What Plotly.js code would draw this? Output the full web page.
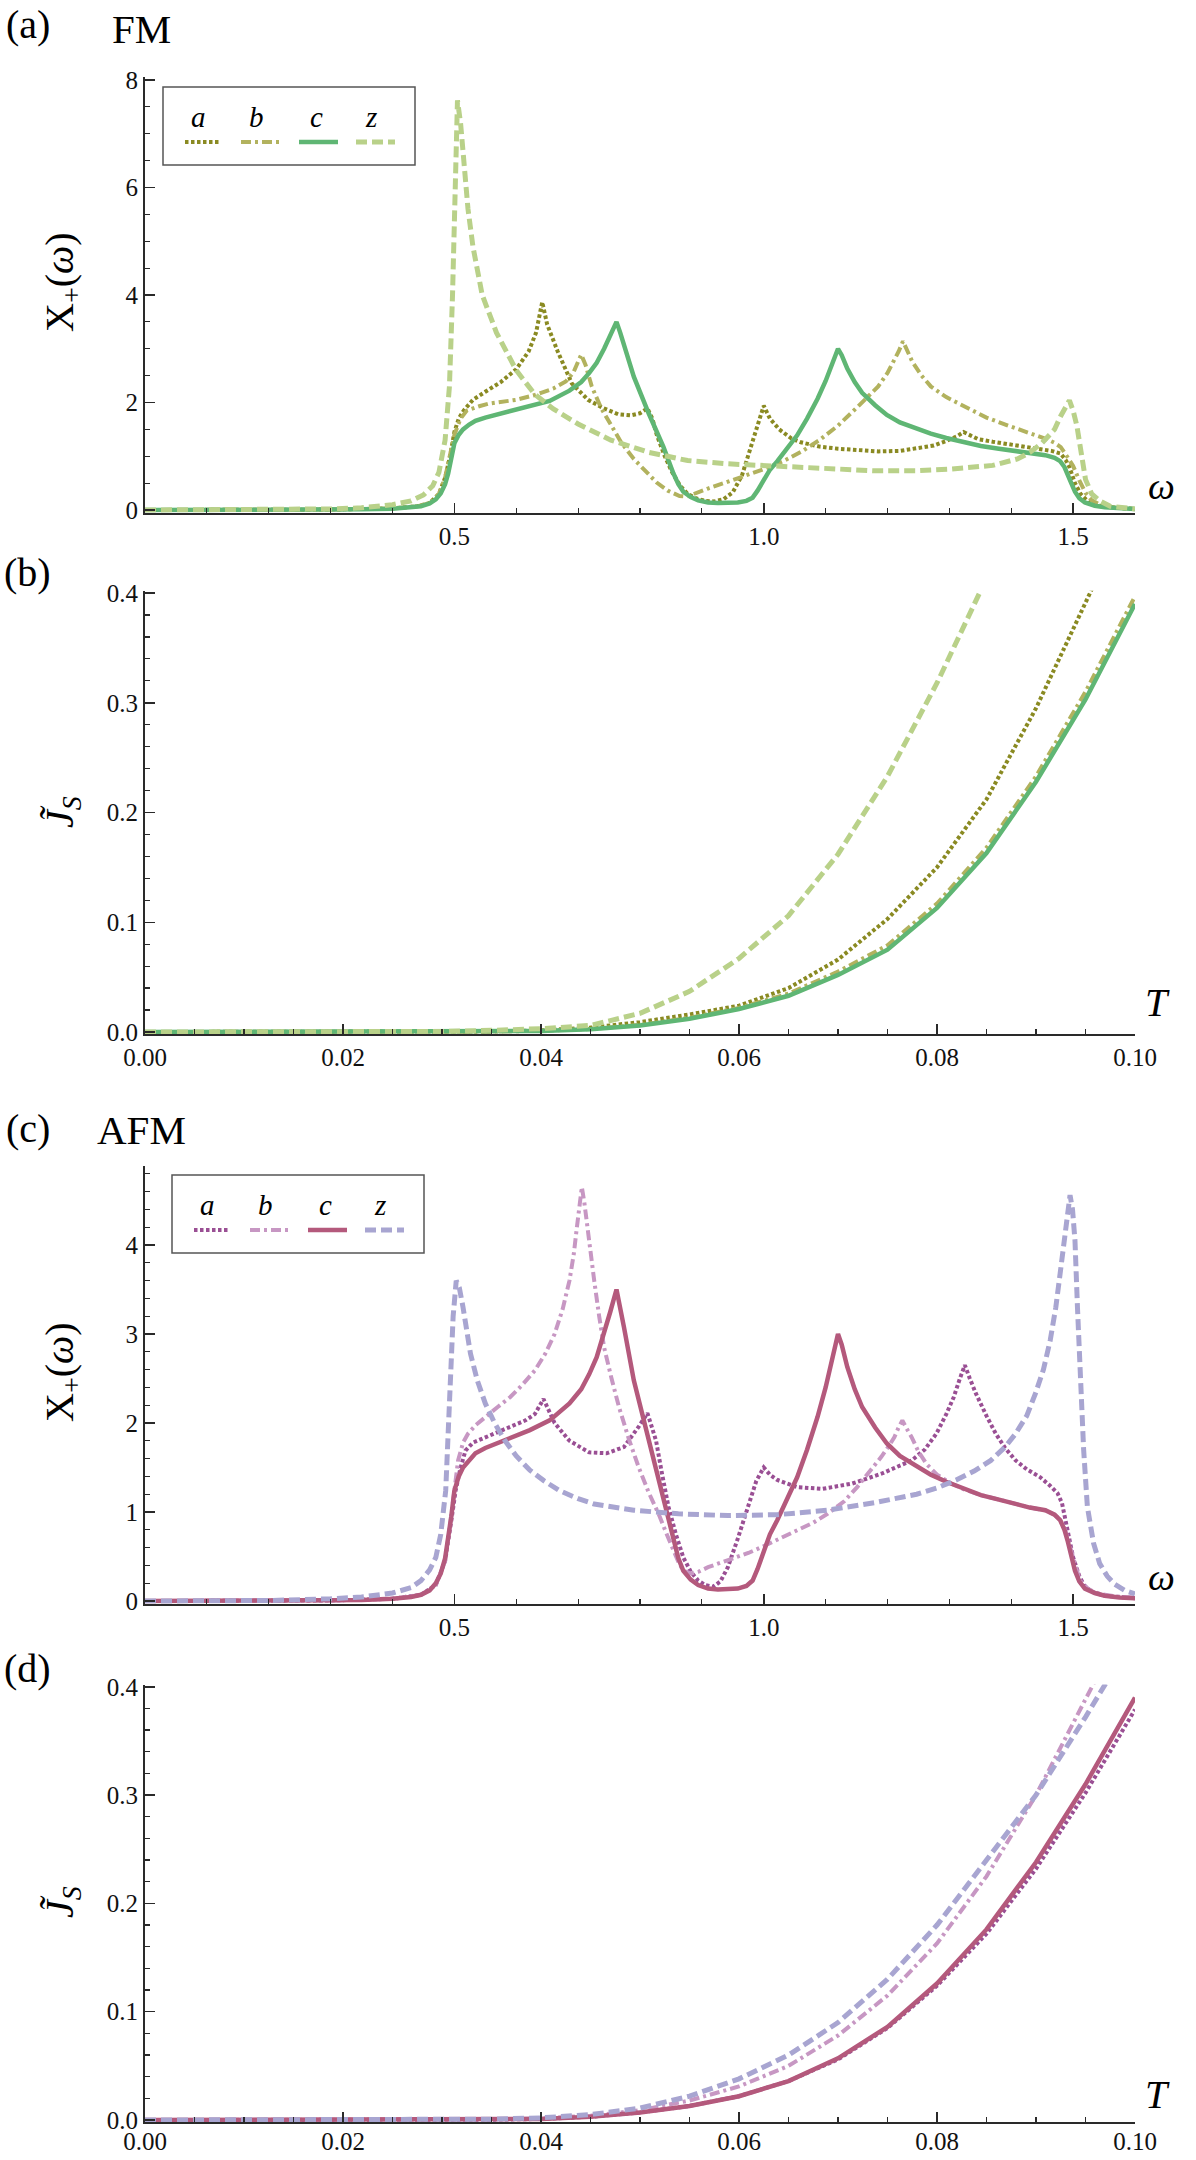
<!DOCTYPE html>
<html><head><meta charset="utf-8">
<script src="https://cdn.plot.ly/plotly-3.0.1.min.js"></script>
<style>html,body{margin:0;padding:0;background:#fff}#chart{width:1196px;height:2160px}</style>
</head><body><div id="chart"></div>
<script>
// ---------- DATA: panel (a) FM, X+(omega) ----------
const fmA_w = [0,0.2,0.3,0.4,0.44,0.46,0.475,0.485,0.493,0.5,0.507,0.515,0.53,0.55,0.575,0.6,0.62,0.632,0.642,0.65,0.667,0.69,0.716,0.74,0.765,0.785,0.8,0.812,0.82,0.827,0.84,0.852,0.865,0.877,0.89,0.905,0.92,0.935,0.95,0.965,0.975,0.988,1.0,1.01,1.025,1.045,1.06,1.09,1.12,1.15,1.185,1.22,1.247,1.275,1.296,1.312,1.323,1.334,1.346,1.37,1.395,1.42,1.444,1.465,1.48,1.488,1.494,1.503,1.512,1.525,1.543,1.57,1.6];
const fmA_y = [0,0.003,0.008,0.03,0.07,0.13,0.3,0.6,1.0,1.45,1.7,1.85,2.05,2.2,2.38,2.62,2.95,3.3,3.87,3.45,2.95,2.35,2.05,1.9,1.78,1.76,1.8,1.89,1.7,1.4,1.0,0.7,0.45,0.3,0.22,0.17,0.16,0.2,0.33,0.65,1.0,1.5,1.94,1.7,1.5,1.33,1.26,1.18,1.14,1.11,1.09,1.1,1.14,1.2,1.29,1.37,1.45,1.38,1.32,1.27,1.23,1.18,1.14,1.1,1.05,0.93,0.8,0.5,0.3,0.15,0.08,0.04,0.02];
const fmB_w = [0,0.3,0.4,0.44,0.46,0.475,0.485,0.493,0.5,0.51,0.52,0.54,0.556,0.6,0.63,0.66,0.68,0.692,0.7,0.705,0.712,0.722,0.737,0.753,0.77,0.79,0.81,0.827,0.845,0.864,0.876,0.889,0.91,0.938,0.97,1.0,1.03,1.06,1.09,1.12,1.15,1.185,1.2,1.21,1.218,1.225,1.232,1.24,1.255,1.27,1.295,1.32,1.36,1.395,1.43,1.457,1.47,1.48,1.49,1.5,1.51,1.52,1.53,1.543,1.57,1.6];
const fmB_y = [0,0.008,0.03,0.07,0.13,0.3,0.6,1.0,1.4,1.7,1.85,1.93,1.98,2.05,2.14,2.26,2.39,2.55,2.75,2.89,2.7,2.3,1.9,1.57,1.25,0.95,0.72,0.51,0.36,0.26,0.25,0.3,0.4,0.51,0.63,0.76,0.9,1.08,1.3,1.57,1.9,2.3,2.55,2.76,2.95,3.14,2.95,2.76,2.5,2.3,2.1,1.95,1.72,1.57,1.43,1.32,1.25,1.17,1.0,0.82,0.55,0.32,0.18,0.1,0.04,0.02];
const fmC_w = [0,0.1,0.2,0.3,0.35,0.4,0.43,0.446,0.46,0.47,0.478,0.485,0.49,0.495,0.5,0.507,0.514,0.524,0.534,0.55,0.574,0.6,0.622,0.654,0.686,0.705,0.718,0.73,0.742,0.752,0.762,0.768,0.774,0.79,0.814,0.838,0.854,0.862,0.87,0.882,0.894,0.91,0.926,0.958,0.972,0.982,0.99,1.0,1.01,1.022,1.038,1.054,1.07,1.087,1.1,1.107,1.114,1.12,1.126,1.135,1.147,1.159,1.18,1.199,1.22,1.247,1.27,1.295,1.32,1.351,1.38,1.407,1.43,1.455,1.47,1.479,1.486,1.491,1.497,1.503,1.51,1.519,1.535,1.551,1.575,1.6];
const fmC_y = [0,0,0.002,0.006,0.012,0.025,0.045,0.07,0.12,0.2,0.31,0.48,0.68,0.95,1.24,1.4,1.5,1.59,1.66,1.72,1.79,1.86,1.92,2.03,2.22,2.38,2.55,2.74,3.0,3.25,3.5,3.3,3.08,2.48,1.8,1.17,0.68,0.48,0.34,0.24,0.18,0.14,0.13,0.14,0.17,0.23,0.36,0.57,0.75,0.91,1.14,1.39,1.7,2.07,2.4,2.63,2.85,3.0,2.88,2.63,2.38,2.18,1.95,1.77,1.63,1.51,1.42,1.34,1.27,1.19,1.14,1.09,1.05,1.02,0.97,0.91,0.8,0.68,0.5,0.34,0.22,0.14,0.08,0.05,0.03,0.02];
const fmZ_w = [0,0.1,0.2,0.3,0.35,0.4,0.43,0.45,0.465,0.475,0.485,0.492,0.497,0.501,0.505,0.51,0.515,0.522,0.53,0.545,0.568,0.6,0.63,0.66,0.7,0.753,0.815,0.877,0.94,1.0,1.06,1.12,1.18,1.247,1.3,1.37,1.41,1.43,1.45,1.47,1.48,1.494,1.5,1.506,1.513,1.52,1.53,1.543,1.56,1.58,1.6];
const fmZ_y = [0,0.002,0.005,0.02,0.04,0.1,0.17,0.28,0.45,0.7,1.3,2.3,4.0,6.0,7.62,7.2,6.4,5.6,4.9,4.0,3.3,2.6,2.15,1.88,1.6,1.3,1.07,0.92,0.86,0.83,0.78,0.75,0.73,0.73,0.76,0.83,0.95,1.07,1.25,1.5,1.75,2.04,1.85,1.57,1.05,0.57,0.3,0.17,0.07,0.04,0.02];

// ---------- DATA: panel (b) FM, J_S(T) ----------
const fmJ_T  = [0,0.01,0.02,0.03,0.035,0.04,0.045,0.05,0.055,0.06,0.065,0.07,0.075,0.08,0.085,0.09,0.095,0.1];
const fmJ_c  = [0,0,0,0.0001,0.0003,0.001,0.0025,0.006,0.012,0.021,0.033,0.052,0.075,0.113,0.163,0.228,0.303,0.39];
const fmJ_b  = [0,0,0,0.0001,0.0003,0.0011,0.0027,0.0065,0.013,0.022,0.035,0.055,0.079,0.117,0.168,0.233,0.31,0.397];
const fmJa_T = [0,0.01,0.02,0.03,0.035,0.04,0.045,0.05,0.055,0.06,0.065,0.07,0.075,0.08,0.085,0.09,0.095,0.0965];
const fmJ_a  = [0,0,0,0.0002,0.0006,0.0015,0.004,0.009,0.016,0.024,0.04,0.066,0.103,0.15,0.212,0.295,0.392,0.42];
const fmJz_T = [0,0.01,0.02,0.03,0.035,0.04,0.045,0.05,0.055,0.06,0.065,0.07,0.075,0.08,0.0843,0.0855];
const fmJ_z  = [0,0,0,0.0005,0.0015,0.003,0.006,0.017,0.037,0.067,0.106,0.162,0.233,0.318,0.40,0.425];

// ---------- DATA: panel (c) AFM, X+(omega) ----------
const afA_w = [0,0.2,0.3,0.4,0.446,0.47,0.485,0.495,0.502,0.51,0.518,0.53,0.55,0.59,0.615,0.63,0.644,0.652,0.662,0.686,0.718,0.746,0.774,0.798,0.812,0.818,0.826,0.835,0.846,0.858,0.87,0.882,0.894,0.905,0.918,0.93,0.942,0.958,0.974,0.988,1.0,1.01,1.022,1.054,1.095,1.143,1.19,1.239,1.26,1.279,1.295,1.307,1.317,1.325,1.333,1.343,1.36,1.375,1.39,1.407,1.425,1.447,1.462,1.475,1.482,1.487,1.494,1.5,1.51,1.519,1.535,1.551,1.6];
const afA_y = [0,0.002,0.006,0.025,0.07,0.18,0.45,0.9,1.24,1.5,1.69,1.78,1.84,1.96,2.03,2.1,2.27,2.15,2.0,1.8,1.67,1.66,1.73,1.96,2.11,1.98,1.8,1.45,1.06,0.75,0.49,0.33,0.23,0.18,0.16,0.22,0.38,0.7,1.06,1.35,1.5,1.42,1.36,1.28,1.26,1.32,1.43,1.58,1.7,1.88,2.1,2.29,2.5,2.65,2.5,2.33,2.08,1.88,1.72,1.58,1.48,1.39,1.3,1.21,1.1,0.94,0.7,0.49,0.28,0.16,0.09,0.06,0.03];
const afB_w = [0,0.3,0.4,0.446,0.47,0.485,0.494,0.5,0.506,0.514,0.522,0.535,0.55,0.57,0.59,0.61,0.63,0.647,0.662,0.675,0.686,0.693,0.698,0.702,0.706,0.71,0.714,0.72,0.726,0.734,0.742,0.754,0.766,0.782,0.798,0.814,0.83,0.842,0.854,0.862,0.87,0.882,0.895,0.91,0.93,0.95,0.975,0.998,1.025,1.054,1.08,1.103,1.13,1.151,1.17,1.19,1.203,1.211,1.218,1.224,1.23,1.239,1.25,1.263,1.28,1.303,1.325,1.351,1.38,1.407,1.43,1.455,1.47,1.479,1.487,1.495,1.503,1.511,1.525,1.543,1.57,1.6];
const afB_y = [0,0.006,0.025,0.07,0.18,0.45,0.9,1.25,1.58,1.78,1.88,1.98,2.07,2.18,2.29,2.43,2.59,2.78,3.0,3.28,3.6,3.9,4.2,4.45,4.65,4.48,4.24,3.9,3.6,3.2,2.85,2.5,2.18,1.82,1.5,1.22,0.98,0.77,0.57,0.44,0.34,0.31,0.33,0.38,0.43,0.48,0.54,0.61,0.7,0.79,0.88,0.98,1.12,1.28,1.44,1.62,1.75,1.84,1.95,2.03,1.95,1.84,1.68,1.54,1.42,1.32,1.25,1.19,1.14,1.09,1.05,1.02,0.97,0.91,0.8,0.61,0.4,0.23,0.13,0.08,0.05,0.04];
const afC_w = [0,0.1,0.2,0.3,0.35,0.4,0.43,0.446,0.46,0.47,0.478,0.485,0.49,0.495,0.5,0.507,0.514,0.524,0.534,0.55,0.574,0.6,0.622,0.654,0.686,0.705,0.718,0.73,0.742,0.752,0.762,0.768,0.774,0.79,0.814,0.838,0.854,0.862,0.87,0.882,0.894,0.91,0.926,0.958,0.972,0.982,0.99,1.0,1.01,1.022,1.038,1.054,1.07,1.087,1.1,1.107,1.114,1.12,1.126,1.135,1.147,1.159,1.18,1.199,1.22,1.247,1.27,1.295,1.32,1.351,1.38,1.407,1.43,1.455,1.47,1.479,1.486,1.491,1.497,1.503,1.51,1.519,1.535,1.551,1.575,1.6];
const afC_y = [0,0,0.002,0.006,0.012,0.025,0.045,0.07,0.12,0.2,0.31,0.48,0.68,0.95,1.24,1.4,1.5,1.59,1.66,1.72,1.79,1.86,1.92,2.03,2.22,2.38,2.55,2.74,3.0,3.25,3.5,3.3,3.08,2.48,1.8,1.17,0.68,0.48,0.34,0.24,0.18,0.14,0.13,0.14,0.17,0.23,0.36,0.57,0.75,0.91,1.14,1.39,1.7,2.07,2.4,2.63,2.85,3.0,2.88,2.63,2.38,2.18,1.95,1.77,1.63,1.51,1.42,1.34,1.27,1.19,1.14,1.09,1.05,1.02,0.97,0.91,0.8,0.68,0.5,0.34,0.22,0.14,0.09,0.06,0.04,0.03];
const afZ_w = [0,0.1,0.2,0.3,0.35,0.4,0.43,0.446,0.46,0.47,0.478,0.486,0.49,0.494,0.498,0.503,0.508,0.514,0.52,0.526,0.537,0.55,0.565,0.582,0.6,0.622,0.645,0.67,0.7,0.726,0.79,0.862,0.942,1.022,1.103,1.183,1.247,1.28,1.311,1.34,1.367,1.39,1.407,1.425,1.439,1.452,1.463,1.472,1.479,1.485,1.49,1.495,1.499,1.503,1.507,1.511,1.517,1.523,1.533,1.543,1.555,1.567,1.583,1.6];
const afZ_y = [0,0.002,0.006,0.025,0.045,0.09,0.15,0.23,0.35,0.49,0.75,1.24,1.8,2.55,3.2,3.6,3.52,3.3,3.05,2.78,2.48,2.22,2.0,1.8,1.63,1.47,1.35,1.24,1.15,1.09,1.02,0.98,0.96,0.97,1.02,1.11,1.2,1.27,1.36,1.46,1.58,1.73,1.88,2.08,2.33,2.6,2.93,3.3,3.68,4.05,4.35,4.56,4.4,4.05,3.3,2.55,1.7,1.06,0.65,0.42,0.28,0.19,0.12,0.08];

// ---------- DATA: panel (d) AFM, J_S(T) ----------
const afJ_T  = [0,0.01,0.02,0.03,0.035,0.04,0.045,0.05,0.055,0.06,0.065,0.07,0.075,0.08,0.085,0.09,0.095,0.1];
const afJ_c  = [0,0,0,0.0001,0.0003,0.001,0.003,0.007,0.013,0.022,0.036,0.057,0.086,0.126,0.176,0.238,0.31,0.39];
const afJ_a  = [0,0,0,0.0001,0.0003,0.001,0.003,0.007,0.013,0.022,0.036,0.056,0.085,0.124,0.172,0.232,0.302,0.379];
const afJb_T = [0,0.01,0.02,0.03,0.035,0.04,0.045,0.05,0.055,0.06,0.065,0.07,0.075,0.08,0.085,0.09,0.095,0.0965];
const afJ_b  = [0,0,0,0.0002,0.0006,0.0015,0.004,0.009,0.018,0.031,0.05,0.078,0.115,0.163,0.225,0.30,0.388,0.415];
const afJz_T = [0,0.01,0.02,0.03,0.035,0.04,0.045,0.05,0.055,0.06,0.065,0.07,0.075,0.08,0.085,0.09,0.095,0.0975];
const afJ_z  = [0,0,0,0.0003,0.0008,0.002,0.005,0.011,0.022,0.038,0.06,0.09,0.13,0.18,0.24,0.30,0.372,0.41];

const seriesNames = ['a','b','c','z'];
const fmColors  = ['#8a8a22','#b2b25e','#5fb674','#b9d189'];
const afmColors = ['#9a4f94','#c797c3','#b4597c','#a8a5d1'];
const dashes = ['3.5px,2.5px','10px,4px,3px,4px','solid','11px,5px'];
const widths = [4,4,4.5,5];

// ---------- LAYOUT ----------
const W = 1196, H = 2160;
const px = v => v / W, py = v => 1 - v / H;
const serif = 'Liberation Serif, Times New Roman, serif';
const axisCol = '#2a2a2a';

function tr(x, y, k, colors, xa, ya) {
  return {x: x, y: y, type: 'scatter', mode: 'lines', name: seriesNames[k], showlegend: false,
          xaxis: xa, yaxis: ya, hoverinfo: 'skip',
          line: {color: colors[k], width: widths[k], dash: dashes[k], shape: 'linear'}};
}
const data = [
  tr(fmA_w, fmA_y, 0, fmColors, 'x', 'y'),
  tr(fmB_w, fmB_y, 1, fmColors, 'x', 'y'),
  tr(fmC_w, fmC_y, 2, fmColors, 'x', 'y'),
  tr(fmZ_w, fmZ_y, 3, fmColors, 'x', 'y'),
  tr(fmJa_T, fmJ_a, 0, fmColors, 'x2', 'y2'),
  tr(fmJ_T, fmJ_b, 1, fmColors, 'x2', 'y2'),
  tr(fmJ_T, fmJ_c, 2, fmColors, 'x2', 'y2'),
  tr(fmJz_T, fmJ_z, 3, fmColors, 'x2', 'y2'),
  tr(afA_w, afA_y, 0, afmColors, 'x3', 'y3'),
  tr(afB_w, afB_y, 1, afmColors, 'x3', 'y3'),
  tr(afC_w, afC_y, 2, afmColors, 'x3', 'y3'),
  tr(afZ_w, afZ_y, 3, afmColors, 'x3', 'y3'),
  tr(afJ_T, afJ_a, 0, afmColors, 'x4', 'y4'),
  tr(afJb_T, afJ_b, 1, afmColors, 'x4', 'y4'),
  tr(afJ_T, afJ_c, 2, afmColors, 'x4', 'y4'),
  tr(afJz_T, afJ_z, 3, afmColors, 'x4', 'y4')
];

// domain helper: pixel rows of the plot-range top and bottom
const dom = (top, bottom) => [1 - bottom / H, 1 - top / H];
const xdom = [px(145), px(1135)];
const tickFont = {family: serif, size: 25, color: '#111'};
function axBase(extra) {
  return Object.assign({showline: true, linecolor: axisCol, linewidth: 2, showgrid: false, zeroline: false,
    ticks: 'inside', ticklen: 10, tickwidth: 1.5, tickcolor: axisCol, tickfont: tickFont, fixedrange: true}, extra);
}
function omegaX(anchor) {
  return axBase({domain: xdom, anchor: anchor, range: [0, 1.6], tickvals: [0.5, 1.0, 1.5], ticktext: ['0.5', '1.0', '1.5'],
    minor: {dtick: 0.1, tick0: 0, ticklen: 5, tickwidth: 1.2, tickcolor: axisCol, ticks: 'inside'}});
}
function tempX(anchor, standoff) {
  return axBase({domain: xdom, anchor: anchor, range: [0, 0.1], dtick: 0.02, tick0: 0, tickformat: '.2f',
    ticklabelstandoff: standoff,
    minor: {dtick: 0.005, tick0: 0, ticklen: 5, tickwidth: 1.2, tickcolor: axisCol, ticks: 'inside'}});
}
function jY(anchor, d) {
  return axBase({domain: d, anchor: anchor, range: [-0.002, 0.402], dtick: 0.1, tick0: 0, tickformat: '.1f',
    minor: {dtick: 0.02, tick0: 0, ticklen: 5, tickwidth: 1.2, tickcolor: axisCol, ticks: 'inside'}});
}

const annFont = sz => ({family: serif, size: sz, color: '#000'});
function ann(text, x, y, sz, extra) {
  return Object.assign({text: text, xref: 'paper', yref: 'paper', x: px(x), y: py(y), xanchor: 'center', yanchor: 'middle',
    showarrow: false, font: annFont(sz)}, extra || {});
}
const annotations = [
  ann('(a)', 28, 25, 40), ann('FM', 141, 29, 41),
  ann('(b)', 28, 572, 40),
  ann('(c)', 28, 1128, 40), ann('AFM', 141, 1130, 41),
  ann('(d)', 28, 1668, 40),
  ann('X<sub>+</sub>(<i>ω</i>)', 62, 282, 40, {textangle: -90}),
  ann('<i>J̃</i><sub><i>S</i></sub>', 62, 812, 40, {textangle: -90}),
  ann('X<sub>+</sub>(<i>ω</i>)', 62, 1372, 40, {textangle: -90}),
  ann('<i>J̃</i><sub><i>S</i></sub>', 62, 1902, 40, {textangle: -90}),
  ann('<i>ω</i>', 1161, 486, 38), ann('<i>ω</i>', 1161, 1577, 38),
  ann('<i>T</i>', 1157, 1002, 40), ann('<i>T</i>', 1157, 2094, 40)
];
const shapes = [];
function legendBox(x0, y0, colors) {
  shapes.push({type: 'rect', xref: 'paper', yref: 'paper', x0: px(x0), x1: px(x0 + 252), y0: py(y0), y1: py(y0 + 78),
    line: {color: '#555', width: 1.5}, fillcolor: '#fff', layer: 'above'});
  const lx = [35, 93, 153, 208];
  const s0 = [22, 78, 136, 193], s1 = [56, 117, 175, 232];
  for (let k = 0; k < 4; k++) {
    annotations.push(ann('<i>' + seriesNames[k] + '</i>', x0 + lx[k], y0 + 30, 29));
    shapes.push({type: 'line', xref: 'paper', yref: 'paper', x0: px(x0 + s0[k]), x1: px(x0 + s1[k]), y0: py(y0 + 55), y1: py(y0 + 55),
      line: {color: colors[k], width: widths[k], dash: dashes[k]}, layer: 'above'});
  }
}
legendBox(163, 87, fmColors);
legendBox(172, 1175, afmColors);

const layout = {
  width: W, height: H, margin: {l: 0, r: 0, t: 0, b: 0}, paper_bgcolor: '#fff', plot_bgcolor: 'rgba(0,0,0,0)',
  showlegend: false, font: {family: serif},
  xaxis: omegaX('y'),
  yaxis: axBase({domain: dom(77.3, 512.7), anchor: 'x', range: [-0.05, 8.05], dtick: 2, tick0: 0,
    minor: {dtick: 0.5, tick0: 0, ticklen: 5, tickwidth: 1.2, tickcolor: axisCol, ticks: 'inside'}}),
  xaxis2: tempX('y2', 0),
  yaxis2: jY('x2', dom(590.8, 1034.2)),
  xaxis3: omegaX('y3'),
  yaxis3: axBase({domain: dom(1165.8, 1603.7), anchor: 'x3', range: [-0.03, 4.89], dtick: 1, tick0: 0,
    minor: {dtick: 0.2, tick0: 0, ticklen: 5, tickwidth: 1.2, tickcolor: axisCol, ticks: 'inside'}}),
  xaxis4: tempX('y4', -4),
  yaxis4: jY('x4', dom(1684.6, 2122.2)),
  annotations: annotations, shapes: shapes
};
Plotly.newPlot('chart', data, layout, {staticPlot: true, displayModeBar: false});
</script></body></html>
